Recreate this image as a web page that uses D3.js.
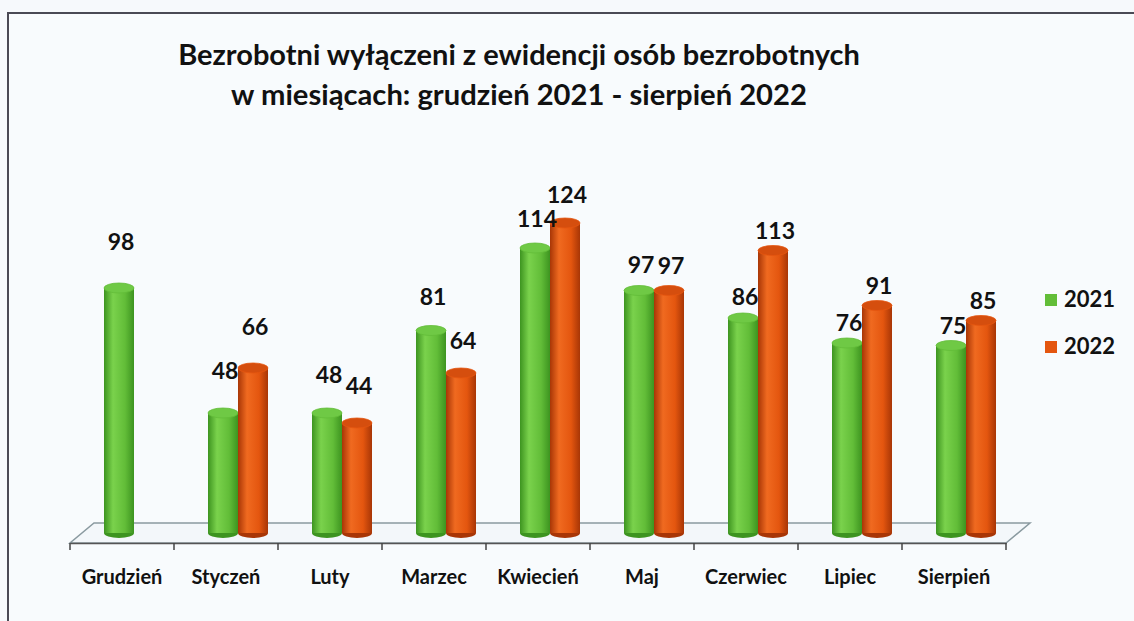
<!DOCTYPE html>
<html>
  <body style="margin:0;background:#f6f9fc;">
    <style>
      svg { display: block; }
      text { font-family: Lato, "Open Sans", sans-serif; font-weight: 700; fill: #111; }
    </style>
    <script src="https://d3js.org/d3.v7.min.js"></script>
    <script type="text/javascript">
      const width = 1134;
      const height = 621;

      const months = ['Grudzień', 'Styczeń', 'Luty', 'Marzec', 'Kwiecień', 'Maj', 'Czerwiec', 'Lipiec', 'Sierpień'];
      const values2021 = [98, 48, 48, 81, 114, 97, 86, 76, 75];
      const values2022 = [null, 66, 44, 64, 124, 97, 113, 91, 85];
      const seriesNames = ['2021', '2022'];
      const titleLines = ['Bezrobotni wyłączeni z ewidencji osób bezrobotnych', 'w miesiącach: grudzień 2021 - sierpień 2022'];

      const colors = {
        '2021': { dark: '#3d9420', mid: '#62bd38', light: '#7ad24c', top: '#6fc945' },
        '2022': { dark: '#a83606', mid: '#e4560f', light: '#f06a20', top: '#d54e0e' },
      };

      const floorY = 543;
      const depth = { dx: 24, dy: -20 };
      const barW = 30;
      const shift = 12; // bars sit half way into the floor depth

      const svg = d3.select('body')
        .append('svg')
        .attr('width', width)
        .attr('height', height);

      // gradients for the cylinders
      const defs = svg.append('defs');
      seriesNames.forEach((s) => {
        const g = defs.append('linearGradient').attr('id', 'grad' + s)
          .attr('x1', 0).attr('x2', 1).attr('y1', 0).attr('y2', 0);
        g.append('stop').attr('offset', '0%').attr('stop-color', colors[s].dark);
        g.append('stop').attr('offset', '30%').attr('stop-color', colors[s].light);
        g.append('stop').attr('offset', '70%').attr('stop-color', colors[s].mid);
        g.append('stop').attr('offset', '100%').attr('stop-color', colors[s].dark);
      });

      // frame
      svg.append('rect')
        .attr('x', 8).attr('y', 13)
        .attr('width', width + 20).attr('height', height + 20)
        .attr('fill', '#f8fbfd')
        .attr('stroke', '#4a4a55')
        .attr('stroke-width', 2);

      const xScale = d3.scaleBand()
        .domain(months)
        .range([70, 1006]);

      const yScale = d3.scaleLinear()
        .domain([0, 124])
        .range([floorY - 10, floorY - 10 - 310]);

      // floor
      const x0 = xScale.range()[0];
      const x1 = xScale.range()[1];
      svg.append('path')
        .attr('d', `M${x0},${floorY} L${x1},${floorY} L${x1 + depth.dx},${floorY + depth.dy} L${x0 + depth.dx},${floorY + depth.dy} Z`)
        .attr('fill', '#f3f7fa')
        .attr('stroke', '#8a9aa0')
        .attr('stroke-width', 1.5);

      const xAxis = d3.axisBottom(xScale)
        .tickSize(0)
        .tickPadding(27)
        .tickFormat((d) => d);

      const axisG = svg.append('g')
        .attr('transform', `translate(0,${floorY})`)
        .call(xAxis);
      axisG.select('.domain').attr('stroke', '#555').attr('stroke-width', 1.5);
      axisG.selectAll('text')
        .attr('font-size', 20)
        .attr('font-family', 'Lato, sans-serif')
        .attr('font-weight', 700)
        .attr('fill', '#111');

      // tick marks on the band edges
      svg.append('g')
        .selectAll('line')
        .data(months.concat(['end']))
        .enter()
        .append('line')
        .attr('x1', (d, i) => x0 + i * xScale.step())
        .attr('x2', (d, i) => x0 + i * xScale.step())
        .attr('y1', floorY)
        .attr('y2', floorY + 7)
        .attr('stroke', '#444')
        .attr('stroke-width', 1.5);

      // bar records
      const bars = [];
      months.forEach((m, i) => {
        [values2021[i], values2022[i]].forEach((v, k) => {
          if (v === null) return;
          const cx = xScale(m) + xScale.bandwidth() / 2 + shift + (k === 0 ? -barW / 2 : barW / 2);
          bars.push({ month: m, series: seriesNames[k], value: v, cx });
        });
      });

      const ry = 5;
      const barG = svg.append('g')
        .selectAll('g.bar')
        .data(bars)
        .enter()
        .append('g')
        .attr('class', 'bar');

      barG.append('ellipse')
        .attr('cx', (d) => d.cx)
        .attr('cy', yScale(0))
        .attr('rx', barW / 2)
        .attr('ry', ry)
        .attr('fill', (d) => colors[d.series].dark);

      barG.append('rect')
        .attr('x', (d) => d.cx - barW / 2)
        .attr('y', (d) => yScale(d.value))
        .attr('width', barW)
        .attr('height', (d) => yScale(0) - yScale(d.value))
        .attr('fill', (d) => `url(#grad${d.series})`);

      barG.append('ellipse')
        .attr('cx', (d) => d.cx)
        .attr('cy', (d) => yScale(d.value))
        .attr('rx', barW / 2)
        .attr('ry', ry)
        .attr('fill', (d) => colors[d.series].top)
        .attr('stroke', (d) => colors[d.series].mid)
        .attr('stroke-width', 0.8);

      // value labels, a bit higher on the left because of the perspective
      const labelGap = (x) => Math.max(20, 46 - 0.04 * (x - 120));
      svg.append('g')
        .selectAll('text')
        .data(bars)
        .enter()
        .append('text')
        .attr('x', (d) => d.cx + 2)
        .attr('y', (d) => yScale(d.value) - labelGap(d.cx) + 8)
        .attr('text-anchor', 'middle')
        .attr('font-size', 23)
        .text((d) => d.value);

      // legend
      const legend = svg.append('g')
        .selectAll('g')
        .data(seriesNames)
        .enter()
        .append('g')
        .attr('transform', (d, i) => `translate(1045,${294 + i * 47})`);
      legend.append('rect')
        .attr('width', 12).attr('height', 12)
        .attr('fill', (d) => colors[d].mid);
      legend.append('text')
        .attr('x', 19).attr('y', 13)
        .attr('font-size', 22)
        .text((d) => d);

      // title, scaled to the width of the original
      const titleWidths = [682, 576];
      svg.append('g')
        .selectAll('text')
        .data(titleLines)
        .enter()
        .append('text')
        .attr('x', 519)
        .attr('y', (d, i) => 65 + i * 40)
        .attr('text-anchor', 'middle')
        .attr('font-size', 24)
        .text((d) => d)
        .each(function (d, i) {
          const w = this.getComputedTextLength();
          d3.select(this).attr('font-size', 24 * titleWidths[i] / w);
        });
    </script>
  </body>
</html>
